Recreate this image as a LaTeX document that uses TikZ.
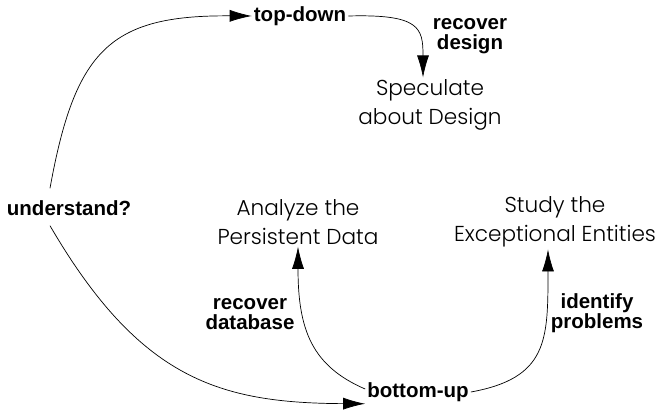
\documentclass[tikz,border=0pt]{standalone}
\usepackage{fontspec}
\setmainfont{Liberation Sans}
\newfontfamily\lightfont{Poppins Light}
\usetikzlibrary{arrows.meta}

\tikzset{
    task/.style={font=\lightfont\fontsize{21.6}{29}\selectfont, align=center, inner sep=2pt},
    lbl/.style={font=\bfseries\fontsize{20.5}{19.5}\selectfont, align=center, inner sep=2pt},
    flow/.style={-{Latex[length=22pt,width=12pt]}, line width=0.7pt}
}

\begin{document}
\begin{tikzpicture}[x=1pt, y=-1pt]
        \useasboundingbox (0,0) rectangle (660,412);

        % Nodes
        \node (topdown) [lbl] at (300,16) {top-down};
        \node (recdesign) [lbl] at (470,36) {recover\\design};
        \node (speculate) [task] at (430,105) {Speculate\\about Design};
        \node (understand) [lbl] at (69,208) {understand?};
        \node (analyze) [task] at (298,222) {Analyze the\\Persistent Data};
        \node (study) [task] at (555,222) {Study the\\Exceptional Entities};
        \node (recdb) [lbl] at (250,314) {recover\\database};
        \node (identify) [lbl] at (597,313) {identify\\problems};
        \node (bottomup) [lbl] at (418,392) {bottom-up};

        % Arrows
        \draw [flow] ([xshift=-19pt,yshift=10pt]understand.north) .. controls (75,50) and (110,15) .. (topdown.west);
        \draw [flow] (topdown.east) .. controls (420,14) and (423,28) .. ([xshift=-7pt]speculate.north);
        \draw [flow] ([xshift=-19pt,yshift=-8pt]understand.south) .. controls (140,380) and (220,403) .. (bottomup.south west);
        \draw [flow] ([yshift=3pt]bottomup.west) .. controls (312,366) and (298,330) .. (analyze.south);
        \draw [flow] (bottomup.east) .. controls (548,378) and (548,340) .. ([xshift=-7pt]study.south);

    \end{tikzpicture}
\end{document}
